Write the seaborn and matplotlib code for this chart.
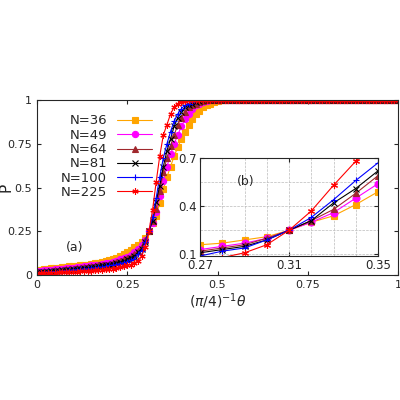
import numpy as np
import pandas as pd
import seaborn as sns
import matplotlib.pyplot as plt

sns.set_style("ticks")
plt.rcParams['font.family'] = ['DejaVu Sans']

x_step = 0.01
labels = ["N=36", "N=49", "N=64", "N=81", "N=100", "N=225"]
colors = ["#FFA500", "#FF00FF", "#A0282D", "#000000", "#0000FF", "#FF0000"]
markers = ["s", "o", "^", "x", "+", (6, 2, 0)]

# P for theta = 0.00 .. 0.26
low = {
    "N=36": [0.03, 0.03, 0.035, 0.035, 0.04, 0.04, 0.04, 0.045, 0.045, 0.05, 0.05, 0.05, 0.055, 0.06,
             0.06, 0.065, 0.07, 0.07, 0.075, 0.08, 0.085, 0.09, 0.10, 0.11, 0.12, 0.13, 0.145],
    "N=49": [0.025, 0.025, 0.03, 0.03, 0.03, 0.035, 0.035, 0.035, 0.04, 0.04, 0.04, 0.045, 0.045, 0.05,
             0.05, 0.055, 0.055, 0.06, 0.065, 0.07, 0.07, 0.075, 0.08, 0.09, 0.095, 0.105, 0.115],
    "N=64": [0.02, 0.02, 0.025, 0.025, 0.025, 0.03, 0.03, 0.03, 0.035, 0.035, 0.035, 0.04, 0.04, 0.045,
             0.045, 0.05, 0.05, 0.055, 0.06, 0.06, 0.065, 0.07, 0.075, 0.08, 0.09, 0.095, 0.105],
    "N=81": [0.018, 0.018, 0.02, 0.02, 0.022, 0.025, 0.025, 0.027, 0.03, 0.03, 0.032, 0.035, 0.035, 0.04,
             0.04, 0.045, 0.045, 0.05, 0.055, 0.055, 0.06, 0.065, 0.07, 0.075, 0.08, 0.09, 0.10],
    "N=100": [0.015, 0.015, 0.017, 0.018, 0.02, 0.02, 0.022, 0.024, 0.025, 0.027, 0.03, 0.03, 0.032, 0.035,
              0.035, 0.04, 0.04, 0.045, 0.045, 0.05, 0.055, 0.055, 0.06, 0.065, 0.07, 0.075, 0.085],
    "N=225": [0.01, 0.01, 0.012, 0.012, 0.013, 0.014, 0.015, 0.016, 0.017, 0.018, 0.019, 0.02, 0.021, 0.022,
              0.024, 0.025, 0.027, 0.029, 0.03, 0.032, 0.035, 0.037, 0.04, 0.045, 0.05, 0.055, 0.06],
}
# P for theta = 0.27 .. 0.35
mid = {
    "N=36": [0.16, 0.17, 0.19, 0.21, 0.25, 0.30, 0.34, 0.41, 0.49],
    "N=49": [0.13, 0.15, 0.17, 0.20, 0.25, 0.30, 0.36, 0.45, 0.54],
    "N=64": [0.12, 0.14, 0.16, 0.20, 0.25, 0.31, 0.38, 0.48, 0.59],
    "N=81": [0.11, 0.13, 0.15, 0.19, 0.25, 0.31, 0.42, 0.51, 0.62],
    "N=100": [0.09, 0.12, 0.14, 0.19, 0.25, 0.33, 0.44, 0.56, 0.67],
    "N=225": [0.07, 0.08, 0.11, 0.16, 0.25, 0.37, 0.53, 0.68, 0.80],
}
# P for theta = 0.36 onwards (then saturates at 1)
high = {
    "N=36": [0.56, 0.62, 0.68, 0.73, 0.78, 0.82, 0.86, 0.89, 0.92, 0.94, 0.96, 0.97, 0.98, 0.99, 0.995],
    "N=49": [0.62, 0.69, 0.75, 0.80, 0.85, 0.89, 0.92, 0.95, 0.97, 0.98, 0.99, 0.995],
    "N=64": [0.67, 0.74, 0.80, 0.86, 0.90, 0.93, 0.96, 0.97, 0.98, 0.99, 0.995],
    "N=81": [0.71, 0.78, 0.85, 0.90, 0.93, 0.96, 0.97, 0.98, 0.99, 0.995],
    "N=100": [0.75, 0.82, 0.88, 0.92, 0.95, 0.97, 0.98, 0.99, 0.995],
    "N=225": [0.86, 0.92, 0.96, 0.98, 0.99, 0.995],
}

rows = []
for lab in labels:
    vals = low[lab] + mid[lab] + high[lab]
    vals = vals + [1.0] * (101 - len(vals))
    for i, v in enumerate(vals):
        rows.append((lab, round(i * x_step, 2), v))
df = pd.DataFrame(rows, columns=["N", "theta", "P"])

fig = plt.figure(figsize=(4, 4), dpi=100)
ax = fig.add_axes([0.0925, 0.3125, 0.9025, 0.4375])
for lab, c, m in zip(labels, colors, markers):
    d = df[df.N == lab]
    sns.lineplot(data=d, x="theta", y="P", ax=ax, color=c, marker=m, markersize=4.5,
                 markeredgecolor=c, markeredgewidth=0.8, lw=0.8, label=lab)
ax.set_xlim(0, 1)
ax.set_ylim(0, 1)
ax.set_xticks([0, 0.25, 0.5, 0.75, 1])
ax.set_xticklabels(["0", "0.25", "0.5", "0.75", "1"])
ax.set_yticks([0, 0.25, 0.5, 0.75, 1])
ax.set_yticklabels(["0", "0.25", "0.5", "0.75", "1"])
ax.tick_params(labelsize=8, direction="in", length=3, right=True, top=True)
ax.set_xlabel(r"$(\pi/4)^{-1}\theta$", fontsize=10, labelpad=1)
ax.set_ylabel("P", fontsize=11)
ax.yaxis.set_label_coords(-0.065, 0.5)
ax.legend(loc="upper left", bbox_to_anchor=(0.04, 0.97), markerfirst=False, frameon=False,
          fontsize=9.5, handlelength=2.6, labelspacing=0.1, borderpad=0.2)
ax.text(0.08, 0.14, "(a)", fontsize=9)

axin = fig.add_axes([0.5, 0.36, 0.445, 0.245])
for lab, c, m in zip(labels, colors, markers):
    d = df[(df.N == lab) & (df.theta >= 0.27) & (df.theta <= 0.35)]
    sns.lineplot(data=d, x="theta", y="P", ax=axin, color=c, marker=m, markersize=5,
                 markeredgecolor=c, markeredgewidth=0.8, lw=0.8, legend=False)
axin.set_xlim(0.27, 0.35)
axin.set_ylim(0.09, 0.7)
axin.set_xticks([0.27, 0.31, 0.35])
axin.set_xticks(np.round(np.arange(0.27, 0.351, 0.01), 2), minor=True)
axin.set_yticks([0.1, 0.4, 0.7])
axin.set_yticks([0.25, 0.55], minor=True)
axin.grid(True, which="both", ls="--", lw=0.5, color="#BBBBBB")
axin.tick_params(labelsize=8.5, direction="in", length=3, right=True, top=True, pad=2)
axin.tick_params(which="minor", length=0)
axin.set_xlabel("")
axin.set_ylabel("")
axin.text(0.2865, 0.53, "(b)", fontsize=9)

fig.savefig("out.png", dpi=100)
